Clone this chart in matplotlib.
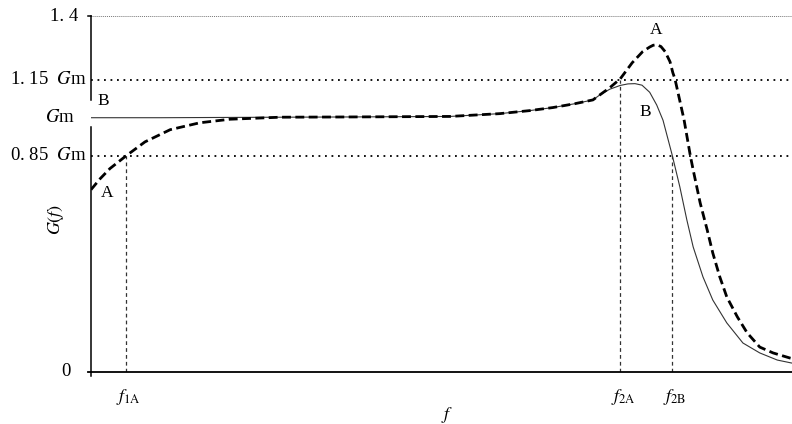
import matplotlib
matplotlib.use("Agg")
import matplotlib.pyplot as plt
from matplotlib.transforms import blended_transform_factory

plt.rcParams['font.family'] = ['Liberation Serif', 'DejaVu Serif']
plt.rcParams['mathtext.fontset'] = 'stix'

# ---- data ----
xA = [0.0, 1.3, 2.7, 5.0, 7.7, 11.3, 15.5, 19.8, 27.0, 36.9, 51.2, 58.3, 62.6, 65.9,
      69.0, 71.6, 74.0, 75.5, 77.2, 78.7, 79.7, 80.2, 80.7, 81.3, 81.9, 82.6, 83.0,
      83.3, 84.6, 85.5, 85.9, 86.9, 87.9, 88.7, 89.7, 90.7, 92.2, 93.6, 95.4, 97.3,
      99.7, 100.0]
yA = [0.717, 0.76, 0.80, 0.85, 0.905, 0.953, 0.980, 0.994, 1.002, 1.003, 1.005, 1.016,
      1.028, 1.04, 1.055, 1.07, 1.118, 1.153, 1.216, 1.26, 1.278, 1.285, 1.287, 1.28,
      1.26, 1.22, 1.177, 1.153, 0.992, 0.85, 0.795, 0.665, 0.559, 0.468, 0.374, 0.295,
      0.217, 0.154, 0.098, 0.075, 0.055, 0.053]

xB = [0.0, 10.0, 27.0, 36.9, 51.2, 58.3, 62.6, 65.9, 69.0, 71.6, 72.6, 74.0, 75.5,
      76.6, 77.6, 78.6, 79.7, 80.7, 81.6, 82.9, 84.0, 85.0, 85.9, 87.3, 88.7, 90.7,
      93.0, 95.4, 97.9, 100.0]
yB = [1.0, 1.0, 1.002, 1.003, 1.005, 1.016, 1.028, 1.04, 1.055, 1.07, 1.09, 1.112,
      1.127, 1.133, 1.134, 1.128, 1.10, 1.05, 0.99, 0.854, 0.728, 0.598, 0.492, 0.374,
      0.283, 0.193, 0.114, 0.075, 0.047, 0.035]

ref_levels = [1.15, 0.85]
ytick_vals = [1.4, 1.15, 1.0, 0.85, 0.0]
ytick_labels = ['1. 4', r'1. 15  $\it{G}$m', r'$\it{G}$m', r'0. 85  $\it{G}$m', '0']
f_marks = [5.0, 75.5, 82.9]
f_mark_tops = [0.85, 1.15, 0.85]
f_mark_labels = [r'$f_{\rm 1A}$', r'$f_{\rm 2A}$', r'$f_{\rm 2B}$']

# ---- figure ----
W, H = 792, 424
fig = plt.figure(figsize=(W / 100, H / 100), dpi=100)
ax = fig.add_axes([91 / W, 52 / H, 701 / W, 356 / H])
ax.set_xlim(0, 100)
ax.set_ylim(0, 1.4)
for s in ax.spines.values():
    s.set_visible(False)
ax.set_xticks([])
ax.set_yticks([])

# reference lines
ax.axhline(1.4, color='#777777', lw=0.7, ls=(0, (1, 1)), zorder=1)
for lv in ref_levels:
    ax.axhline(lv, color='black', lw=1.3, ls=(0, (1, 2.6)), zorder=1)
for xm, top in zip(f_marks, f_mark_tops):
    ax.plot([xm, xm], [0, top], color='#333333', lw=0.9, ls=(0, (3, 2.5)), zorder=1)

# curves
ax.plot(xB, yB, color='#333333', lw=0.8, zorder=2)
ax.plot(xA, yA, color='black', lw=2.0, ls=(0, (3.2, 1.6)), zorder=3)

# axes (broken y axis)
ax.plot([0, 0], [1.071, 1.4], color='black', lw=1.1, clip_on=False, zorder=4)
ax.plot([0, 0], [0, 0.965], color='black', lw=1.1, clip_on=False, zorder=4)
ax.plot([-0.45, 100], [0, 0], color='black', lw=1.3, clip_on=False, zorder=4)
ax.plot([-0.45, 0], [1.4, 1.4], color='black', lw=1.1, clip_on=False, zorder=4)
ax.plot([0, 0], [0, -0.015], color='black', lw=1.1, clip_on=False, zorder=4)

# y tick labels
tr = blended_transform_factory(ax.transAxes, ax.transData)
label_right_px = [78, 87, 75, 87, 71]
for v, lab, rp in zip(ytick_vals, ytick_labels, label_right_px):
    ax.text((rp - 91) / 701, v, lab, transform=tr, ha='right', va='center',
            fontsize=13.5, clip_on=False)

# f labels
for xm, lab in zip(f_marks, f_mark_labels):
    ax.text(xm + 0.4, -0.1, lab, ha='center', va='center', fontsize=13, clip_on=False)

ax.text(50.8, -0.17, r'$f$', ha='center', va='center', fontsize=13, clip_on=False)
ax.text(-5.0, 0.6, r'$G(f)$', ha='center', va='center', rotation=90, fontsize=13,
        clip_on=False)

# curve labels
ax.text(80.6, 1.346, 'A', ha='center', va='center', fontsize=12.5)
ax.text(79.0, 1.024, 'B', ha='center', va='center', fontsize=12.5)
ax.text(1.7, 1.067, 'B', ha='center', va='center', fontsize=12.5)
ax.text(2.3, 0.705, 'A', ha='center', va='center', fontsize=12.5)

fig.savefig('out.png', dpi=100)
